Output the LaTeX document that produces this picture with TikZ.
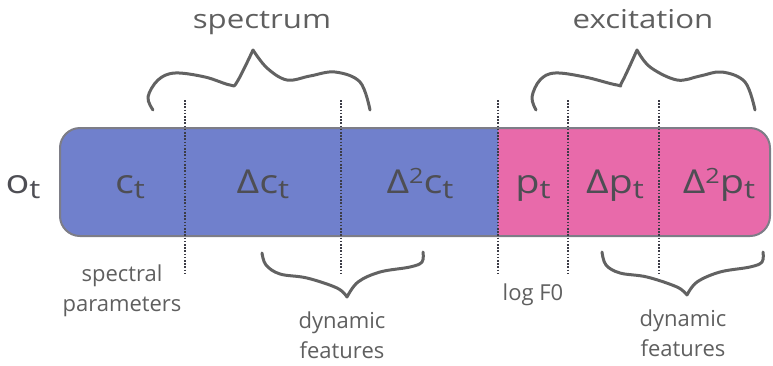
\documentclass[tikz,border=0pt]{standalone}
\usepackage{fontspec}
\setmainfont{Open Sans}
\newfontfamily\widefont{Open Sans}[FakeStretch=1.2]
\definecolor{specblue}{RGB}{112,128,204}
\definecolor{excpink}{RGB}{232,106,170}
\definecolor{edgegray}{RGB}{125,125,135}
\definecolor{cellink}{RGB}{78,78,84}
\definecolor{labelink}{RGB}{95,95,95}
\definecolor{braceink}{RGB}{98,98,98}
\definecolor{dotink}{RGB}{60,60,70}
% lowered subscript t and raised exponent 2 for the stream symbols
\newcommand{\subt}{\raisebox{-5pt}{\fontsize{26}{26}\selectfont t}}
\newcommand{\suptwo}{\raisebox{10pt}{\fontsize{21}{21}\selectfont 2}}
\begin{document}
\begin{tikzpicture}[x=1pt,y=-1pt,
  cell/.style={text=cellink,font=\widefont\fontsize{33}{33}\selectfont,inner sep=0pt,anchor=base},
  title/.style={text=labelink,font=\widefont\fontsize{26}{26}\selectfont,inner sep=0pt,anchor=base},
  caption/.style={text=labelink,font=\fontsize{22}{30}\selectfont,align=center,inner sep=0pt},
  divider/.style={dotink,line width=2pt,dash pattern=on 1.6pt off 1.6pt},
  brace/.style={braceink,line width=3pt,line cap=round,line join=round},
  outline/.style={edgegray,line width=2pt,rounded corners=20pt}]
\useasboundingbox (0,0) rectangle (773,365);

% feature vector bar: spectral part blue, excitation part pink
\fill[excpink,rounded corners=20pt] (60,128) rectangle (770,236);
\begin{scope}
  \clip (50,120) rectangle (498,244);
  \fill[specblue,rounded corners=20pt] (60,128) rectangle (770,236);
\end{scope}
\draw[outline] (60,128) rectangle (770,236);

% stream boundaries
\foreach \x in {185,341,498,568,659}
  \draw[divider] (\x,100) -- (\x,274);

% stream symbols
\node[cell] (ot)   at (23,193)  {o\subt};
\node[cell] (ct)   at (130,193) {c\subt};
\node[cell] (dct)  at (263,193) {Δc\subt};
\node[cell] (ddct) at (420,193) {Δ\suptwo c\subt};
\node[cell] (pt)   at (533,193) {p\subt};
\node[cell] (dpt)  at (615,193) {Δp\subt};
\node[cell] (ddpt) at (719,193) {Δ\suptwo p\subt};

% upper braces
\draw[brace] plot[smooth,tension=0.6] coordinates {(153,110) (148,97) (158,80) (175,73) (205,77) (230,85) (237,82) (253,50)};
\draw[brace] plot[smooth,tension=0.6] coordinates {(253,50) (267,68) (287,80) (310,76) (335,72) (360,82) (370,110)};
\draw[brace] plot[smooth,tension=0.6] coordinates {(536,110) (532,97) (540,80) (555,73) (585,77) (617,85) (622,82) (637,50)};
\draw[brace] plot[smooth,tension=0.6] coordinates {(637,50) (650,67) (677,80) (700,76) (722,72) (745,82) (755,110)};

% lower braces
\draw[brace] plot[smooth,tension=0.6] coordinates {(262,253) (266,265) (280,274) (307,278) (337,288) (347,297)};
\draw[brace] plot[smooth,tension=0.6] coordinates {(347,297) (358,282) (380,272) (410,267) (422,262) (423,252)};
\draw[brace] plot[smooth,tension=0.6] coordinates {(602,252) (606,265) (620,273) (647,277) (677,287) (687,295)};
\draw[brace] plot[smooth,tension=0.6] coordinates {(687,295) (697,282) (720,272) (750,267) (762,262) (763,252)};

% captions
\node[title]   (spec) at (262,28) {spectrum};
\node[title]   (exc)  at (643,28) {excitation};
\node[caption] (sp)   at (122,291) {spectral\\parameters};
\node[caption] (dyn1) at (342,335) {dynamic\\features};
\node[caption] (lf0)  at (533,295) {log F0};
\node[caption] (dyn2) at (683,333) {dynamic\\features};
\end{tikzpicture}
\end{document}
